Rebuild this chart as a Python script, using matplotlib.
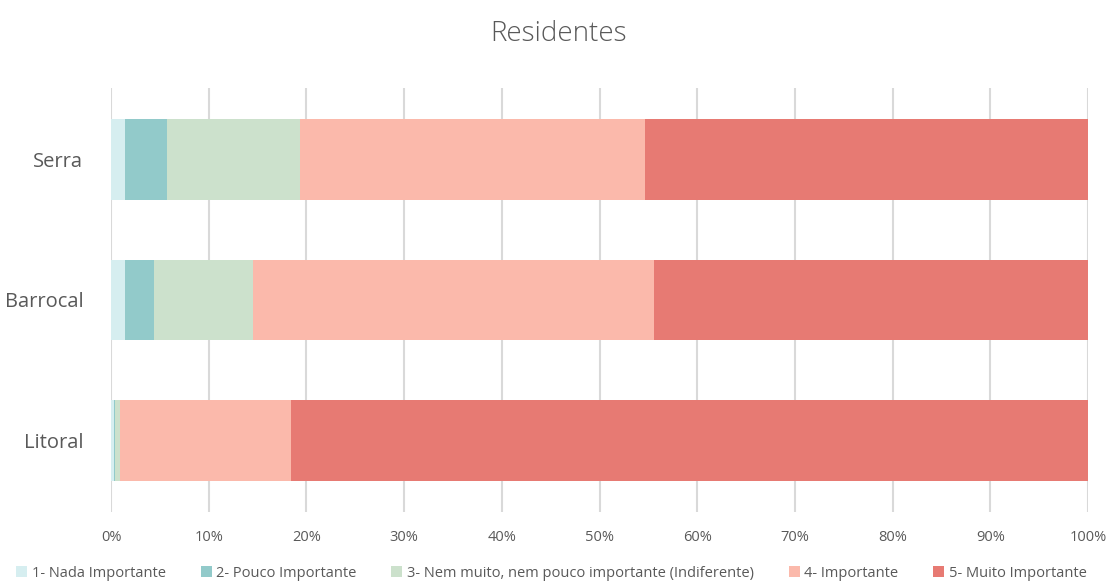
import matplotlib.pyplot as plt
from matplotlib.ticker import PercentFormatter

plt.rcParams['font.family'] = ['Open Sans', 'DejaVu Sans']

regioes = ["Litoral", "Barrocal", "Serra"]
categorias = ["1- Nada Importante", "2- Pouco Importante",
              "3- Nem muito, nem pouco importante (Indiferente)",
              "4- Importante", "5- Muito Importante"]
cores = ["#D6EEF0", "#92CACA", "#CCE1CC", "#FBB9AB", "#E77A73"]

# percentagens por região (Litoral, Barrocal, Serra)
nada = [0.3, 1.4, 1.4]
pouco = [0.1, 3.0, 4.3]
indiferente = [0.5, 10.1, 13.6]
importante = [17.5, 41.1, 35.4]
muito = [81.6, 44.4, 45.3]
valores = [nada, pouco, indiferente, importante, muito]

fig = plt.figure(figsize=(11.17, 5.81), dpi=100)
ax = fig.add_axes([0.0994, 0.1188, 0.8747, 0.7297])

esq = [0, 0, 0]
for serie, cor, nome in zip(valores, cores, categorias):
    ax.barh(regioes, serie, left=esq, height=0.575, color=cor, label=nome)
    esq = [a + b for a, b in zip(esq, serie)]

ax.set_xlim(0, 100)
ax.set_ylim(-0.51, 2.51)
ax.set_xticks(range(0, 101, 10))
ax.xaxis.set_major_formatter(PercentFormatter(decimals=0))
ax.grid(axis='x', color='#D9D9D9', linewidth=1.5)
ax.set_axisbelow(True)
for s in ax.spines.values():
    s.set_visible(False)
ax.tick_params(length=0, colors='#595959')
ax.tick_params(axis='x', labelsize=10.5, pad=13)
ax.tick_params(axis='y', labelsize=14.5, pad=20)

fig.suptitle("Residentes", y=0.965, fontsize=20, color='#595959',
             fontweight='light')

fig.legend(loc='lower center', ncol=5, frameon=False, fontsize=10.5,
           bbox_to_anchor=(0.4937, -0.022), handlelength=0.75,
           handleheight=0.75, handletextpad=0.3, columnspacing=2.4,
           labelcolor='#595959')

fig.savefig("out.png", dpi=100)
